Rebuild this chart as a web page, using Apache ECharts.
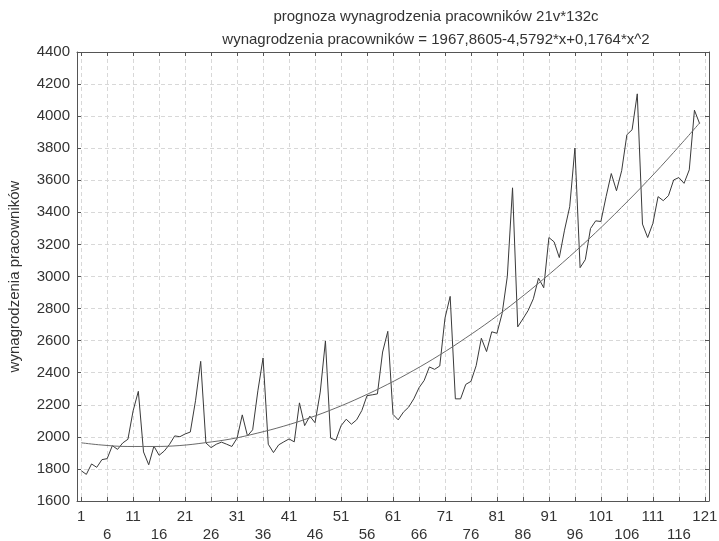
<!DOCTYPE html>
<html>
<head>
<meta charset="utf-8">
<script src="https://cdn.jsdelivr.net/npm/echarts@6/dist/echarts.min.js"></script>
<style>
html,body{margin:0;padding:0;background:#fff;}
#chart{width:719px;height:541px;}
</style>
</head>
<body>
<div id="chart"></div>
<script>
// x positions (observation number)
var obsX = [];
for (var i = 1; i <= 120; i++) obsX.push(i);

var wages = [
  1789, 1766, 1831, 1810, 1858, 1864, 1945, 1922, 1962, 1985,
  2163, 2284, 1906, 1826, 1942, 1885, 1912, 1953, 2006, 2001,
  2018, 2030, 2225, 2471, 1962, 1933, 1954, 1967, 1954, 1940,
  1992, 2137, 2006, 2044, 2287, 2492, 1954, 1902, 1950, 1969,
  1987, 1969, 2212, 2070, 2129, 2088, 2279, 2598, 1992, 1979,
  2069, 2110, 2079, 2106, 2164, 2257, 2262, 2268, 2529, 2658,
  2140, 2106, 2154, 2185, 2237, 2306, 2352, 2436, 2421, 2442,
  2740, 2876, 2237, 2237, 2327, 2346, 2444, 2615, 2532, 2655,
  2646, 2770, 3001, 3553, 2686, 2736, 2788, 2861, 2990, 2930,
  3243, 3216, 3118, 3289, 3435, 3801, 3055, 3105, 3299, 3347,
  3343, 3498, 3642, 3535, 3660, 3884, 3915, 4139, 3327, 3243,
  3331, 3498, 3473, 3504, 3602, 3617, 3581, 3665, 4037, 3953
];

// fitted trend curve
var trendX = [1, 5, 10, 15, 20, 25, 30, 35, 40, 45, 50, 55, 60, 65, 70, 75, 80, 85, 90, 95, 100, 105, 110, 115, 120];
var trendY = [1963, 1949, 1940, 1940, 1946, 1964, 1988, 2024, 2067, 2119, 2180, 2250, 2328, 2415, 2511, 2617, 2730, 2853, 2985, 3125, 3274, 3432, 3598, 3774, 3958];

// axis ticks
var xTicks = [1, 6, 11, 16, 21, 26, 31, 36, 41, 46, 51, 56, 61, 66, 71, 76, 81, 86, 91, 96, 101, 106, 111, 116, 121];

var titleText = 'prognoza wynagrodzenia pracowników 21v*132c';
var subText = 'wynagrodzenia pracowników = 1967,8605-4,5792*x+0,1764*x^2';
var yName = 'wynagrodzenia pracowników';

var dataPairs = obsX.map(function (x, i) { return [x, wages[i]]; });
var trendPairs = trendX.map(function (x, i) { return [x, trendY[i]]; });

var txt = '#333';
var axisCol = '#555';
var font = 'Liberation Sans, Arial, sans-serif';
var fs = 15;

var chart = echarts.init(document.getElementById('chart'), null, {renderer: 'canvas'});
chart.setOption({
  animation: false,
  backgroundColor: '#fff',
  textStyle: {fontFamily: font},
  title: [{
    text: titleText + '\n' + subText,
    left: 431, top: 0, textAlign: 'center',
    textStyle: {fontSize: fs, fontWeight: 'normal', color: txt, lineHeight: 23, fontFamily: font}
  }],
  grid: {left: 77, right: 10, top: 52, bottom: 40, containLabel: false, outerBoundsMode: 'none'},
  xAxis: [{
    type: 'value', min: 0.2, max: 121.8, position: 'bottom',
    axisLine: {show: true, onZero: false, lineStyle: {color: axisCol, width: 1}},
    axisTick: {show: true, inside: true, length: 4, customValues: xTicks, lineStyle: {color: axisCol}},
    axisLabel: {
      customValues: xTicks, color: txt, fontSize: fs, fontFamily: font, margin: 7, lineHeight: 18,
      formatter: function (v) { return (Math.round((v - 1) / 5) % 2 === 1) ? '\n' + v : String(v); }
    },
    splitLine: {show: true, lineStyle: {color: '#d8d8d8', type: [4, 3], width: 1}}
  }, {
    type: 'value', min: 0.2, max: 121.8, position: 'top',
    axisLine: {show: true, onZero: false, lineStyle: {color: axisCol, width: 1}},
    axisTick: {show: true, inside: true, length: 4, customValues: xTicks, lineStyle: {color: axisCol}},
    axisLabel: {show: false},
    splitLine: {show: false}
  }],
  yAxis: [{
    type: 'value', min: 1600, max: 4400, interval: 200, position: 'left',
    name: yName, nameLocation: 'middle', nameGap: 55, nameRotate: 90,
    nameTextStyle: {fontSize: fs, color: txt, fontFamily: font},
    axisLine: {show: true, onZero: false, lineStyle: {color: axisCol, width: 1}},
    axisTick: {show: true, inside: true, length: 4, lineStyle: {color: axisCol}},
    axisLabel: {color: txt, fontSize: fs, fontFamily: font, margin: 7,
      formatter: function (v) { return String(v); }},
    splitLine: {show: true, lineStyle: {color: '#d8d8d8', type: [4, 3], width: 1}}
  }, {
    type: 'value', min: 1600, max: 4400, interval: 200, position: 'right',
    axisLine: {show: true, onZero: false, lineStyle: {color: axisCol, width: 1}},
    axisTick: {show: true, inside: true, length: 4, lineStyle: {color: axisCol}},
    axisLabel: {show: false},
    splitLine: {show: false}
  }],
  series: [{
    type: 'line', data: dataPairs, xAxisIndex: 0, yAxisIndex: 0,
    showSymbol: false, symbol: 'none',
    lineStyle: {color: '#3a3a3a', width: 1}
  }, {
    type: 'line', data: trendPairs, xAxisIndex: 0, yAxisIndex: 0,
    showSymbol: false, symbol: 'none', smooth: 0.4,
    lineStyle: {color: '#6a6a6a', width: 1}
  }]
});
</script>
</body>
</html>
